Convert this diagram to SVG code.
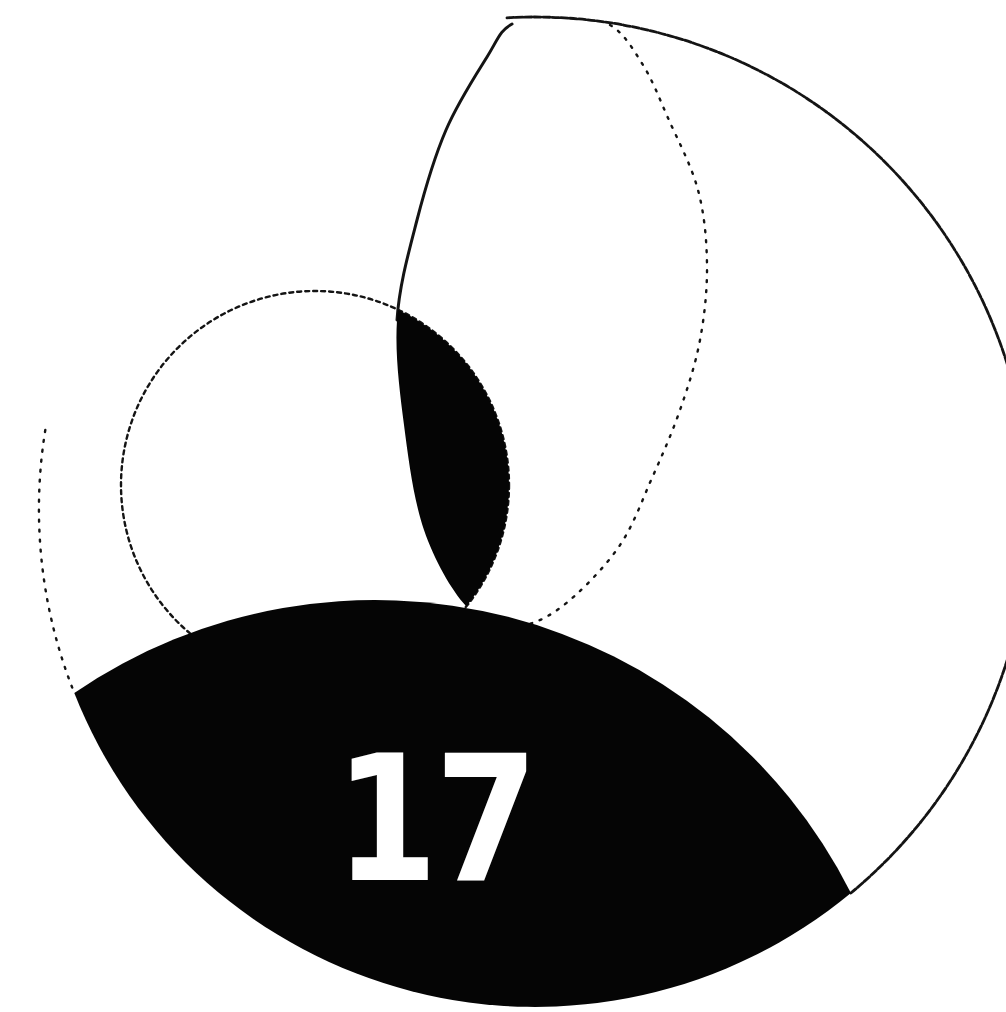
<svg xmlns="http://www.w3.org/2000/svg" width="1006" height="1012" viewBox="0 0 1006 1012">
  <defs>
    <style>
      .line { fill: none; stroke: #141414; stroke-linecap: round; }
      .solid { stroke-width: 3; }
      .dense { stroke-width: 2.8; stroke-dasharray: 7 2; }
      .dotted { stroke-width: 2.4; stroke-dasharray: 4 4; }
      .sparse { stroke-width: 2.4; stroke-dasharray: 2 8; }
      .ink { fill: #050505; }
      .num { fill: #ffffff; font-family: "DejaVu Sans", sans-serif; font-weight: bold; font-size: 174px; letter-spacing: -3.5px; }
    </style>
    <path id="egg" d="M560,18 C576.3,18.2 596.2,17.2 610,25 C623.8,32.8 633.3,49.5 643,65 C652.7,80.5 658.8,97.2 668,118 C677.2,138.8 691.5,165.5 698,190 C704.5,214.5 706.7,240 707,265 C707.3,290 704.5,315.8 700,340 C695.5,364.2 688,387 680,410 C672,433 662.3,455 652,478 C641.7,501 633.3,526.3 618,548 C602.7,569.7 577.7,595 560,608 C542.3,621 527.7,626.3 512,626 C496.3,625.7 480.7,622 466,606 C451.3,590 434.3,560.2 424,530 C413.7,499.8 408.5,460 404,425 C399.5,390 394.8,354.2 397,320 C399.2,285.8 408.8,251.7 417,220 C425.2,188.3 434.3,157.2 446,130 C457.7,102.8 476,74.7 487,57 C498,39.3 499.8,30.5 512,24 C524.2,17.5 543.7,17.8 560,18 Z"/>
    <clipPath id="eggClip">
      <use href="#egg"/>
    </clipPath>
  </defs>

  <rect x="0" y="0" width="1006" height="1012" fill="#ffffff"/>

  <g id="big-circle">
    <path class="line dense" d="M507,17.8 A495,495 0 0 1 850.9,893"/>
    <path class="line sparse" d="M45.3,430 A495,495 0 0 0 74.3,692.9"/>
  </g>

  <g id="small-circle">
    <circle class="line dotted" cx="315" cy="485" r="194"/>
  </g>

  <g id="egg-outline">
    <path class="line solid" d="M512,24 C499.8,30.5 498,39.3 487,57 C476,74.7 457.7,102.8 446,130 C434.3,157.2 425.2,188.3 417,220 C408.8,251.7 399.2,285.8 397,320"/>
    <path class="line sparse" d="M610,25 C623.8,32.8 633.3,49.5 643,65 C652.7,80.5 658.8,97.2 668,118 C677.2,138.8 691.5,165.5 698,190 C704.5,214.5 706.7,240 707,265 C707.3,290 704.5,315.8 700,340 C695.5,364.2 688,387 680,410 C672,433 662.3,455 652,478 C641.7,501 633.3,526.3 618,548 C602.7,569.7 577.7,595 560,608 C542.3,621 527.7,626.3 512,626"/>
  </g>

  <g id="dark-lens">
    <circle class="ink" cx="315" cy="485" r="194" clip-path="url(#eggClip)"/>
  </g>

  <g id="bottom-lens">
    <path class="ink" d="M74.3,692.9 A533,533 0 0 1 850.9,893 A495,495 0 0 1 74.3,692.9 Z"/>
    <text class="num" transform="translate(335,880) scale(0.85,1)" x="0" y="0">17</text>
  </g>
</svg>
